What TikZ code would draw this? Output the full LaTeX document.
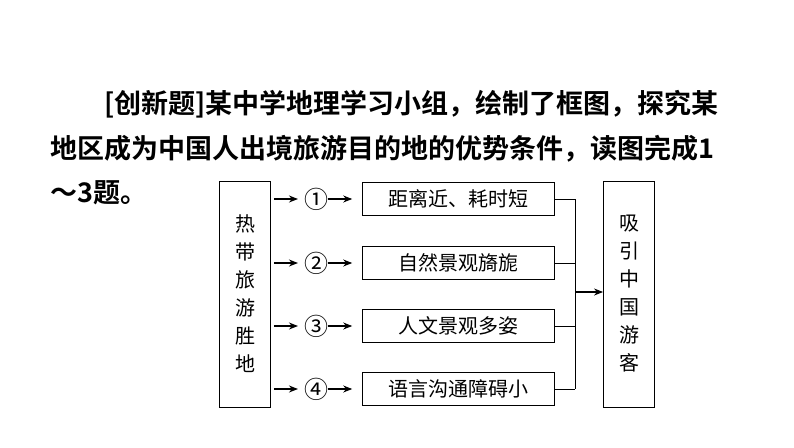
\documentclass[tikz,border=0pt]{standalone}
\usepackage{fontspec}
\newfontfamily\cjk{Noto Sans CJK SC}
\newfontfamily\cjkb{Noto Sans CJK SC Bold}
\usetikzlibrary{positioning,arrows.meta}
\begin{document}
\begin{tikzpicture}[x=1pt,y=-1pt,
  box/.style={draw,line width=0.9pt,minimum width=192pt,minimum height=33pt,inner sep=0pt,font=\cjk\fontsize{20}{20}\selectfont},
  tall/.style={draw,line width=0.9pt,minimum width=51pt,minimum height=226pt,inner sep=0pt,align=center,font=\cjk\fontsize{20}{28}\selectfont},
  num/.style={inner sep=0pt,minimum width=22pt,font=\cjk\fontsize{24}{24}\selectfont},
  link/.style={-{Stealth[length=9pt,width=7pt]},line width=1.1pt}]
\useasboundingbox (0,0) rectangle (794,447);
% title
\node[anchor=west,inner sep=0pt,font=\cjkb\fontsize{27}{27}\selectfont] (t1) at (104,104) {[创新题]某中学地理学习小组，绘制了框图，探究某};
\node[anchor=west,inner sep=0pt,font=\cjkb\fontsize{27}{27}\selectfont] (t2) at (50,149) {地区成为中国人出境旅游目的地的优势条件，读图完成1};
\node[anchor=west,inner sep=0pt,font=\cjkb\fontsize{27}{27}\selectfont] (t3) at (50,193) {～3题。};
% boxes
\node[tall] (src) at (245,294) {热\\带\\旅\\游\\胜\\地};
\node[tall] (dst) at (629,294) {吸\\引\\中\\国\\游\\客};
\node[box] (b1) at (458,199) {距离近、耗时短};
\node[box] (b2) at (458,263) {自然景观旖旎};
\node[box] (b3) at (458,326) {人文景观多姿};
\node[box] (b4) at (458,389) {语言沟通障碍小};
\coordinate (j) at (575,292);
\foreach \i/\y/\c in {1/199/①,2/263/②,3/326/③,4/389/④}{
  \node[num] (n\i) at (316,\y) {\c};
  \draw[link] (src.east |- n\i) ++(3,0) -- ++(24,0);
  \draw[link] (n\i.east) -- ++(24,0);
  \draw[line width=0.9pt] (b\i.east) -- (j |- b\i.east);
}
\draw[line width=0.9pt] (j |- b1.east) -- (j |- b4.east);
\draw[link] (j) -- (dst.west |- j);
\end{tikzpicture}
\end{document}
